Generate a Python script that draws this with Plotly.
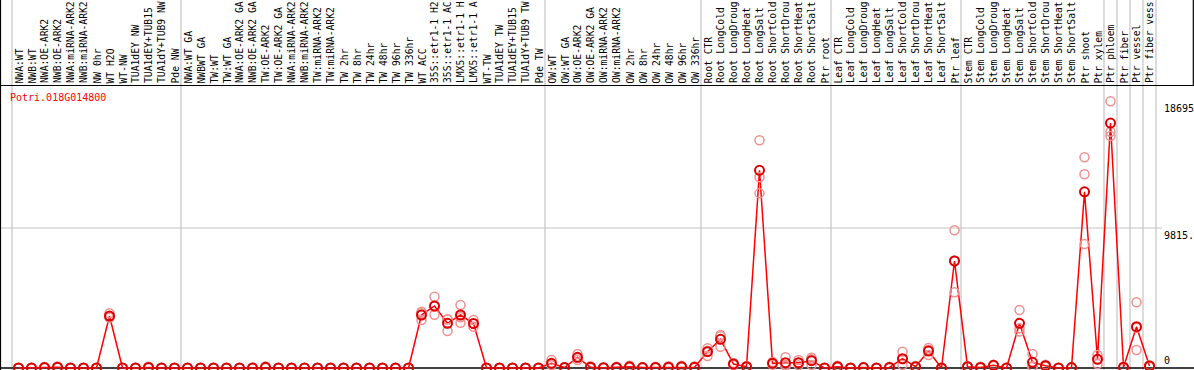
import plotly.graph_objects as go

# ---------------- data ----------------
group_a = ["NWA:WT", "NWB:WT", "NWA:OE-ARK2", "NWB:OE-ARK2", "NWA:miRNA-ARK2", "NWB:miRNA-ARK2",
           "NW 0hr", "WT H2O", "WT-NW", "TUA1dEY NW", "TUA1dEY+TUB15 NW", "TUA1dY+TUB9 NW", "Pde NW"]
group_b = ["NWA:WT GA", "NWBWT GA", "TW:WT", "TW:WT GA", "NWA:OE-ARK2 GA", "NWB:OE-ARK2 GA",
           "TW:OE-ARK2", "TW:OE-ARK2 GA", "NWA:miRNA-ARK2 GA", "NWB:miRNA-ARK2 GA", "TW:miRNA-ARK2",
           "TW:miRNA-ARK2 GA", "TW 2hr", "TW 8hr", "TW 24hr", "TW 48hr", "TW 96hr", "TW 336hr",
           "WT ACC", "35S::etr1-1 H2O", "35S::etr1-1 ACC", "LMX5::etr1-1 H2O", "LMX5::etr1-1 ACC",
           "WT-TW", "TUA1dEY TW", "TUA1dEY+TUB15 TW", "TUA1dY+TUB9 TW", "Pde TW"]
group_c = ["OW:WT", "OW:WT GA", "OW:OE-ARK2", "OW:OE-ARK2 GA", "OW:miRNA-ARK2", "OW:miRNA-ARK2 GA",
           "OW 2hr", "OW 8hr", "OW 24hr", "OW 48hr", "OW 96hr", "OW 336hr"]
group_root = ["Root CTR", "Root LongCold", "Root LongDrought", "Root LongHeat", "Root LongSalt",
              "Root ShortCold", "Root ShortDrought", "Root ShortHeat", "Root ShortSalt", "Ptr root"]
group_leaf = ["Leaf CTR", "Leaf LongCold", "Leaf LongDrought", "Leaf LongHeat", "Leaf LongSalt",
              "Leaf ShortCold", "Leaf ShortDrought", "Leaf ShortHeat", "Leaf ShortSalt", "Ptr leaf"]
group_stem = ["Stem CTR", "Stem LongCold", "Stem LongDrought", "Stem LongHeat", "Stem LongSalt",
              "Stem ShortCold", "Stem ShortDrought", "Stem ShortHeat", "Stem ShortSalt", "Ptr shoot", "Ptr xylem"]
groups = [group_a, group_b, group_c, group_root, group_leaf, group_stem,
          ["Ptr phloem"], ["Ptr fiber"], ["Ptr vessel"], ["Ptr fiber vessel"]]

gene_id = "Potri.018G014800"

mean_values = [
    0, 0, 30, 60, 0, 0, 0, 3645, 0, 0, 40, 0, 0,
    0, 0, 0, 0, 0, 0, 50, 0, 0, 0, 0, 0, 0, 0, 0, 0, 0, 0,
    3716, 4347, 3134, 3716, 3120, 0, 0, 0, 0, 0,
    327, 30, 748, 60, 20, 40, 80, 30, 40, 60, 90, 50,
    1143, 2011, 280, 93, 13859, 327, 374, 374, 514, 0,
    90, 0, 30, 0, 40, 654, 93, 1192, 0, 7501,
    93, 40, 187, 0, 3134, 397, 163, 0, 30, 12348, 610,
    17175, 50, 2897, 140,
]
rep_a = [
    0, 0, 70, 100, 0, 0, 0, 3835, 0, 0, 90, 0, 0,
    0, 0, 0, 0, 0, 0, 100, 0, 0, 0, 0, 0, 0, 0, 0, 0, 0, 0,
    3947, 4999, 3414, 4417, 3365, 0, 0, 0, 0, 0,
    561, 60, 981, 120, 40, 80, 160, 60, 80, 130, 150, 100,
    1379, 2313, 350, 140, 15962, 420, 748, 561, 724, 0,
    150, 0, 60, 0, 80, 1145, 140, 1403, 0, 9653,
    140, 80, 234, 0, 4066, 981, 234, 0, 60, 14772, 911,
    18695, 100, 4605, 200,
]
rep_b = [
    0, 0, 20, 60, 0, 0, 0, 3555, 0, 0, 30, 0, 0,
    0, 0, 0, 0, 0, 0, 50, 0, 0, 0, 0, 0, 0, 0, 0, 0, 0, 0,
    3835, 4305, 3394, 3555, 3100, 0, 0, 0, 0, 0,
    210, 30, 702, 60, 20, 40, 60, 30, 40, 50, 90, 50,
    1209, 2225, 280, 93, 13369, 327, 234, 374, 608, 0,
    90, 0, 30, 0, 40, 607, 93, 1262, 0, 7543,
    93, 40, 187, 0, 2783, 117, 163, 0, 30, 13580, 639,
    16566, 50, 2824, 140,
]
rep_c = [
    0, 0, 0, 20, 0, 0, 0, 3545, 0, 0, 0, 0, 0,
    0, 0, 0, 0, 0, 0, 0, 0, 0, 0, 0, 0, 0, 0, 0, 0, 0, 0,
    3365, 3737, 2594, 3176, 2895, 0, 0, 0, 0, 0,
    210, 0, 561, 0, 0, 0, 20, 0, 0, 0, 30, 0,
    841, 1495, 210, 46, 12245, 234, 140, 187, 210, 0,
    30, 0, 0, 0, 0, 210, 46, 911, 0, 5307,
    46, 0, 140, 0, 2553, 93, 93, 0, 0, 8693, 280,
    16265, 0, 1262, 80,
]
y_tick_vals = [18695, 9815, 0]
y_tick_text = ["18695", "9815.", "0"]

# ---------------- layout helpers ----------------
W, H = 1194, 370
FONT = "DejaVu Sans Mono"
LABEL_CHARS = 14                  # the label strip only shows the first 14 characters
categories = [c for g in groups for c in g]
n = len(categories)
idx = list(range(n))

PX_PER_CAT = 13.0
X0_PX = 18.5                      # pixel of first category centre
x_lo = -X0_PX / PX_PER_CAT
x_hi = (W - X0_PX) / PX_PER_CAT
ZERO_PX, MID_PX = 368.0, 228.0    # pixel rows of 0 and of 9815
per_px = y_tick_vals[1] / (ZERO_PX - MID_PX)
y_lo = -(H - ZERO_PX) * per_px
y_hi = ZERO_PX * per_px


def px_to_paper_y(py):
    return (H - py) / H


def px_to_x(px):
    return (px - X0_PX) / PX_PER_CAT


fig = go.Figure()

# mean line
fig.add_trace(go.Scatter(x=idx, y=mean_values, mode="lines",
                         line=dict(color="#ff0000", width=1.5), hoverinfo="skip"))
# replicates
rx, ry = [], []
for reps in (rep_a, rep_b, rep_c):
    rx += idx
    ry += reps
fig.add_trace(go.Scatter(x=rx, y=ry, mode="markers",
                         marker=dict(symbol="circle-open", size=9, color="#f09090",
                                     line=dict(width=1.5, color="#f09090"))))
# means
fig.add_trace(go.Scatter(x=idx, y=mean_values, mode="markers",
                         marker=dict(symbol="circle-open", size=9, color="#d80000",
                                     line=dict(width=2, color="#d80000"))))

shapes = []
# vertical group separators
bounds = [-0.5]
acc = 0
for g in groups:
    acc += len(g)
    bounds.append(acc - 0.5)
for b in bounds:
    shapes.append(dict(type="line", xref="x", yref="paper", x0=b, x1=b, y0=0, y1=1,
                       line=dict(color="#c4c4c4", width=1.2), layer="below"))
# mid gridline
shapes.append(dict(type="line", xref="x", yref="y", x0=x_lo, x1=px_to_x(1162),
                   y0=y_tick_vals[1], y1=y_tick_vals[1],
                   line=dict(color="#c4c4c4", width=1.2), layer="below"))
# black frame lines
shapes.append(dict(type="line", xref="paper", yref="paper", x0=0, x1=1,
                   y0=px_to_paper_y(85.5), y1=px_to_paper_y(85.5), line=dict(color="black", width=1.2)))
shapes.append(dict(type="line", xref="paper", yref="y", x0=0, x1=1, y0=0, y1=0,
                   line=dict(color="black", width=1.5), layer="below"))
shapes.append(dict(type="line", xref="paper", yref="paper", x0=0.5 / W, x1=0.5 / W, y0=0, y1=1,
                   line=dict(color="black", width=1.2)))
shapes.append(dict(type="line", xref="paper", yref="paper", x0=1 - 0.7 / W, x1=1 - 0.7 / W,
                   y0=px_to_paper_y(85.5), y1=1, line=dict(color="black", width=1.2)))

annotations = []
label_base = px_to_paper_y(84.5)
for i, c in enumerate(categories):
    annotations.append(dict(x=i, xref="x", y=label_base, yref="paper", text=c[:LABEL_CHARS],
                            textangle=-90, xanchor="center", yanchor="bottom", showarrow=False,
                            borderpad=0, font=dict(family=FONT, size=9.7, color="black")))
annotations.append(dict(x=8 / W, xref="paper", y=px_to_paper_y(97), yref="paper", text=gene_id,
                        xanchor="left", yanchor="middle", showarrow=False,
                        font=dict(family=FONT, size=10, color="#ff0000")))
for v, t in zip(y_tick_vals, y_tick_text):
    annotations.append(dict(x=1162 / W, xref="paper", y=v, yref="y", text=t,
                            xanchor="left", yanchor="bottom" if v == 0 else "top",
                            showarrow=False, font=dict(family=FONT, size=10, color="black")))

fig.update_layout(
    width=W, height=H, margin=dict(l=0, r=0, t=0, b=0),
    paper_bgcolor="white", plot_bgcolor="white", showlegend=False,
    xaxis=dict(range=[x_lo, x_hi], visible=False, fixedrange=True),
    yaxis=dict(range=[y_lo, y_hi], visible=False, fixedrange=True),
    shapes=shapes, annotations=annotations,
)
fig.write_html("out.html", config={"displayModeBar": False},
               post_script="document.body.style.margin='0px';document.body.style.overflow='hidden';")
